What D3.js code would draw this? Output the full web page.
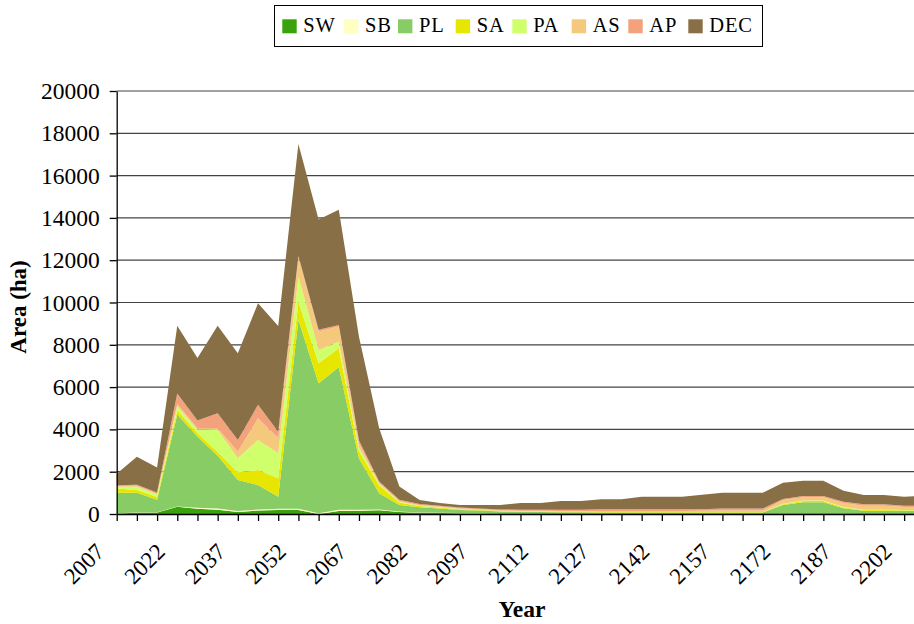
<!DOCTYPE html>
<html><head><meta charset="utf-8">
<script src="https://cdn.jsdelivr.net/npm/d3@7"></script>
<style>body{margin:0;background:#fff}svg{display:block}text{font-family:"Liberation Serif","Times New Roman",serif}</style>
</head><body>
<script>
const years = [2007,2012,2017,2022,2027,2032,2037,2042,2047,2052,2057,2062,2067,2072,2077,2082,2087,2092,2097,2102,2107,2112,2117,2122,2127,2132,2137,2142,2147,2152,2157,2162,2167,2172,2177,2182,2187,2192,2197,2202,2207];
const seriesNames = ["SW","SB","PL","SA","PA","AS","AP","DEC"];
const SW  = [20,60,70,340,250,200,100,160,190,190,0,140,150,180,100,60,50,40,40,30,30,30,30,30,30,30,30,30,30,30,30,30,30,30,30,30,30,30,30,30,30];
const SB  = [10,10,10,20,40,60,40,50,60,60,30,60,50,30,20,10,10,5,5,5,5,5,5,5,5,5,5,5,5,5,5,5,5,5,5,5,5,5,5,5,5];
const PL  = [970,940,590,4350,3370,2490,1470,1160,570,8920,6150,6740,2430,770,300,250,200,150,120,80,60,60,50,50,40,40,40,40,40,40,40,40,40,390,517,517,233,123,123,123,123];
const SA  = [200,130,130,200,160,180,350,710,870,870,950,900,350,380,120,60,40,30,20,20,15,15,15,15,15,15,15,15,15,15,15,15,15,40,60,60,40,30,30,20,20];
const PA  = [90,150,120,190,160,1040,680,1420,1180,1180,630,310,150,60,40,20,20,15,10,10,10,10,10,10,10,10,10,10,10,10,10,10,10,20,30,30,20,15,15,15,15];
const AS  = [30,40,40,100,80,80,310,1030,710,900,870,710,200,60,40,30,30,30,30,30,30,30,30,30,40,40,40,40,40,50,60,60,60,177,146,146,192,191,191,138,140];
const AP  = [40,50,60,500,360,710,550,630,310,80,80,80,150,60,50,40,40,40,40,40,50,50,60,60,80,80,80,80,80,80,100,100,100,47,63,63,63,63,63,63,63];
const DEC = [540,1330,1180,3200,2950,4140,4100,4810,5000,5300,5220,5440,4900,2510,630,190,130,120,160,215,320,320,415,415,475,475,600,600,600,680,748,748,748,772,725,725,520,441,441,426,460];
const yTicks = [0,2000,4000,6000,8000,10000,12000,14000,16000,18000,20000];
const xLabelYears = [2007,2022,2037,2052,2067,2082,2097,2112,2127,2142,2157,2172,2187,2202];
const colors = {SW:"#3aa30b",SB:"#ffffc2",PL:"#88cc66",SA:"#e6e600",PA:"#d0ff6c",AS:"#f5c97c",AP:"#f4a27b",DEC:"#896f45"};

const W=914,H=624;
const svg=d3.select("body").append("svg").attr("width",W).attr("height",H);
const x=d3.scaleLinear().domain([2007,2207]).range([116.7,924.3]);
const y=d3.scaleLinear().domain([0,20000]).range([514,91]);

const series={SW,SB,PL,SA,PA,AS,AP,DEC};
const table=years.map((yr,i)=>{const o={year:yr};seriesNames.forEach(k=>o[k]=series[k][i]);return o;});
const stacked=d3.stack().keys(seriesNames)(table);

// gridlines
svg.append("g").selectAll("line").data(yTicks.filter(d=>d>0)).join("line")
  .attr("x1",116.7).attr("x2",W).attr("y1",d=>y(d)).attr("y2",d=>y(d))
  .attr("stroke","#444").attr("stroke-width",1.2);

const area=d3.area().x(d=>x(d.data.year)).y0(d=>y(d[0])).y1(d=>y(d[1]));
svg.append("g").selectAll("path").data(stacked).join("path")
  .attr("d",area).attr("fill",d=>colors[d.key]);

// y axis
const ya=svg.append("g").attr("transform","translate(116.7,0)")
  .call(d3.axisLeft(y).tickValues(yTicks).tickSize(7).tickPadding(10).tickSizeOuter(0).tickFormat(d3.format("d")));
ya.selectAll("text").attr("font-size",23.5).attr("fill","#000");
ya.selectAll("line,path").attr("stroke","#000").attr("stroke-width",1.3);

// x axis
const xa=svg.append("g").attr("transform","translate(0,514)")
  .call(d3.axisBottom(x).tickValues(years).tickSize(7).tickSizeOuter(0).tickFormat(""));
xa.selectAll("line,path").attr("stroke","#000").attr("stroke-width",1.3);
svg.append("g").selectAll("text").data(xLabelYears).join("text")
  .attr("transform",d=>`translate(${x(d)-11},553) rotate(-45)`)
  .attr("text-anchor","end").attr("font-size",23).text(d=>d);

// titles
svg.append("text").attr("transform","translate(26,307) rotate(-90)").attr("text-anchor","middle")
  .attr("font-size",23).attr("font-weight","bold").text("Area (ha)");
svg.append("text").attr("x",522).attr("y",617).attr("text-anchor","middle")
  .attr("font-size",23.5).attr("font-weight","bold").text("Year");

// legend
const lg=svg.append("g");
lg.append("rect").attr("x",274.5).attr("y",5.5).attr("width",488).attr("height",41)
  .attr("fill","#fff").attr("stroke","#000").attr("stroke-width",1);
const legX=[282.3,344,398,455.7,512.3,571.7,628.3,688.3];
const items=lg.selectAll("g").data(seriesNames).join("g")
  .attr("transform",(d,i)=>`translate(${legX[i]},0)`);
items.append("rect").attr("x",0).attr("y",19.3).attr("width",14.4).attr("height",14).attr("fill",d=>colors[d]);
items.append("text").attr("x",21).attr("y",32).attr("font-size",20.5).attr("letter-spacing",0.8).text(d=>d);
</script>
</body></html>
